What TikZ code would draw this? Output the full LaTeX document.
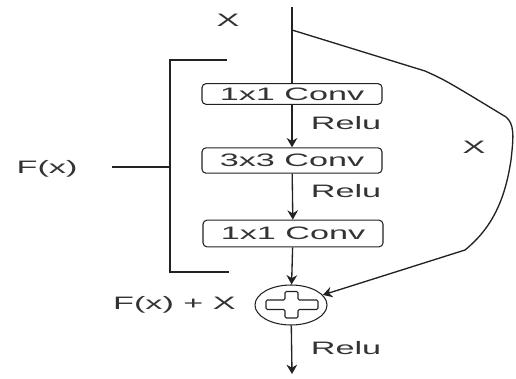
\documentclass[tikz,border=0pt]{standalone}
\usepackage{fontspec}
\setmainfont{Liberation Sans}[FakeStretch=1.9]
\usetikzlibrary{arrows.meta,shapes.geometric}
\definecolor{ink}{HTML}{222222}
\definecolor{txt}{HTML}{333333}
\begin{document}
\begin{tikzpicture}[x=0.75pt,y=-0.75pt,
  lbl/.style={text=txt,font=\fontsize{13.5}{13.5}\selectfont,inner sep=0pt},
  convbox/.style={draw=ink,line width=0.8pt,rounded corners=3pt,lbl,minimum width=135pt,anchor=center},
  wire/.style={draw=ink,line width=1pt},
  arr/.style={wire,-{Stealth[length=7pt,width=8pt]}},
  brack/.style={draw=ink,line width=1.8pt}]
\useasboundingbox (0,0) rectangle (516,378);
% conv boxes
\node[convbox,minimum height=15.5pt] (c1) at (292,94) {1x1 Conv};
\node[convbox,minimum height=19pt] (c2) at (292,160.5) {3x3 Conv};
\node[convbox,minimum height=20pt] (c3) at (293,233.5) {1x1 Conv};
% sum
\node[ellipse,draw=ink,line width=0.8pt,minimum width=54pt,minimum height=30pt,inner sep=0pt] (sum) at (291,305) {};
\draw[draw=ink,line width=0.8pt,rounded corners=1pt]
  (285,291.5) -- (298,291.5) -- (298,300) -- (318,300) -- (318,309.5) -- (298,309.5)
  -- (298,318) -- (285,318) -- (285,309.5) -- (266,309.5) -- (266,300) -- (285,300) -- cycle;
% coordinates
\coordinate (in) at (292,7);
\coordinate (split) at (292,30);
\coordinate (out) at (292,374);
% main path
\draw[wire] (in) -- (c1);
\draw[arr] (c1) -- (c2);
\draw[arr] (c2) -- (c3);
\draw[arr] (c3) -- (sum);
\draw[arr] (sum) -- (out);
% shortcut
\draw[arr] (split) -- (425,71) .. controls (445,80) .. (506,117)
  .. controls (514,124) and (514,134) .. (511,160)
  .. controls (505,200) and (492,228) .. (465,250) -- (sum);
% labels
\node[lbl] (xin) at (228,20) {X};
\node[lbl] (xsc) at (474,147) {X};
\node[lbl] (r1) at (346,123) {Relu};
\node[lbl] (r2) at (346,191) {Relu};
\node[lbl] (r3) at (346,348) {Relu};
\node[lbl,anchor=east] (fsum) at (236,305) {F(x) + X};
\node[lbl] (fx) at (47,169) {F(x)};
% bracket
\coordinate (bt) at (226,60);
\coordinate (btl) at (170,60);
\coordinate (bbl) at (170,272);
\coordinate (bb) at (228,272);
\coordinate (bm) at (170,167);
\coordinate (fxend) at (112,167);
\draw[brack,line cap=rect] (bt) -- (btl) -- (bbl) -- (bb);
\draw[wire,line width=1.2pt] (fxend) -- (bm);
\end{tikzpicture}
\end{document}
